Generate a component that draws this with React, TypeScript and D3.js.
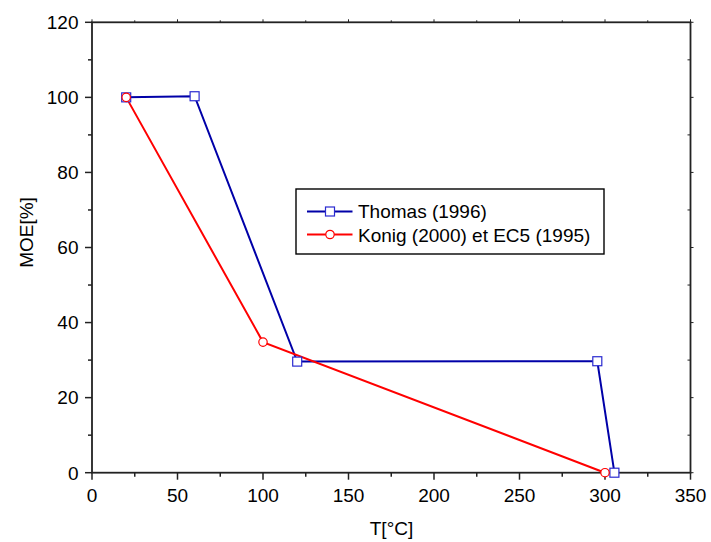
import React from "react";
import * as d3 from "d3";

const thomasT = [20, 60, 120, 295.5, 305.5];
const thomasMOE = [100, 100.3, 29.6, 29.7, 0];
const konigT = [20, 100, 300];
const konigMOE = [100, 34.8, 0];
const xTicks = [0, 50, 100, 150, 200, 250, 300, 350];
const yTicks = [0, 20, 40, 60, 80, 100, 120];
const seriesNames = ["Thomas (1996)", "Konig (2000) et EC5 (1995)"];

const W = 711, H = 542;
const L = 92, R = 690.5, T = 22.3, B = 472.7;

export default function App() {
  const x = d3.scaleLinear().domain([0, 350]).range([L, R]);
  const y = d3.scaleLinear().domain([0, 120]).range([B, T]);
  const thomas = thomasT.map((t, i) => [t, thomasMOE[i]] as [number, number]);
  const konig = konigT.map((t, i) => [t, konigMOE[i]] as [number, number]);
  const line = d3.line<[number, number]>().x(d => x(d[0])).y(d => y(d[1]));
  const xMinor = d3.range(25, 350, 50);
  const yMinor = d3.range(10, 120, 20);
  const font = "Arial, 'Liberation Sans', sans-serif";
  const blue = "#0000a8";
  const blueM = "#2a2ad0";
  const red = "#ff0000";
  const ax = "#222";
  const sq = 9;
  return (
    <svg width={W} height={H} style={{ position: "absolute", left: 0, top: 0, background: "#fff" }} fontFamily={font}>
      <rect x={0} y={0} width={W} height={H} fill="#fff" />
      {xTicks.map(t => (
        <g key={"xt" + t}>
          <line x1={x(t)} x2={x(t)} y1={B} y2={B + 7} stroke={ax} strokeWidth={1.5} />
          <line x1={x(t)} x2={x(t)} y1={T} y2={T - 3} stroke={ax} strokeWidth={1} />
          <text x={x(t)} y={502} fontSize={19} textAnchor="middle" fill="#000">{t}</text>
        </g>
      ))}
      {xMinor.map(t => (
        <g key={"xm" + t}>
          <line x1={x(t)} x2={x(t)} y1={B} y2={B + 4} stroke={ax} strokeWidth={1.5} />
          <line x1={x(t)} x2={x(t)} y1={T} y2={T - 2} stroke={ax} strokeWidth={1} />
        </g>
      ))}
      {yTicks.map(t => (
        <g key={"yt" + t}>
          <line x1={L} x2={L - 7} y1={y(t)} y2={y(t)} stroke={ax} strokeWidth={1.5} />
          <line x1={R} x2={R + 3} y1={y(t)} y2={y(t)} stroke={ax} strokeWidth={1} />
          <text x={L - 13.5} y={y(t) + 6.8} fontSize={19} textAnchor="end" fill="#000">{t}</text>
        </g>
      ))}
      {yMinor.map(t => (
        <g key={"ym" + t}>
          <line x1={L} x2={L - 4} y1={y(t)} y2={y(t)} stroke={ax} strokeWidth={1.5} />
          <line x1={R} x2={R - 3} y1={y(t)} y2={y(t)} stroke={ax} strokeWidth={1} />
        </g>
      ))}
      <rect x={L} y={T} width={R - L} height={B - T} fill="none" stroke={ax} strokeWidth={1.8} />
      <text x={391.5} y={535} fontSize={19} textAnchor="middle" fill="#000">T[°C]</text>
      <text transform={`translate(33,232.5) rotate(-90)`} fontSize={19} textAnchor="middle" fill="#000">MOE[%]</text>
      <path d={line(thomas) || ""} fill="none" stroke={blue} strokeWidth={2} />
      <path d={line(konig) || ""} fill="none" stroke={red} strokeWidth={2} />
      {thomas.map((d, i) => (
        <rect key={"ts" + i} x={x(d[0]) - sq / 2} y={y(d[1]) - sq / 2} width={sq} height={sq} fill="#fff" stroke={blueM} strokeWidth={1.2} />
      ))}
      {konig.map((d, i) => (
        <circle key={"kc" + i} cx={x(d[0])} cy={y(d[1])} r={4.2} fill="#fff" stroke={red} strokeWidth={1.2} />
      ))}
      <rect x={296} y={189} width={308} height={65} fill="#fff" stroke="#000" strokeWidth={1.4} />
      <line x1={307} x2={352.5} y1={211.5} y2={211.5} stroke={blue} strokeWidth={2} />
      <rect x={330 - sq / 2} y={211.5 - sq / 2} width={sq} height={sq} fill="#fff" stroke={blueM} strokeWidth={1.2} />
      <text x={358} y={218.3} fontSize={19} fill="#000">{seriesNames[0]}</text>
      <line x1={307} x2={352.5} y1={234.5} y2={234.5} stroke={red} strokeWidth={2} />
      <circle cx={330} cy={234.5} r={4.2} fill="#fff" stroke={red} strokeWidth={1.2} />
      <text x={358} y={241.7} fontSize={19} fill="#000">{seriesNames[1]}</text>
    </svg>
  );
}
